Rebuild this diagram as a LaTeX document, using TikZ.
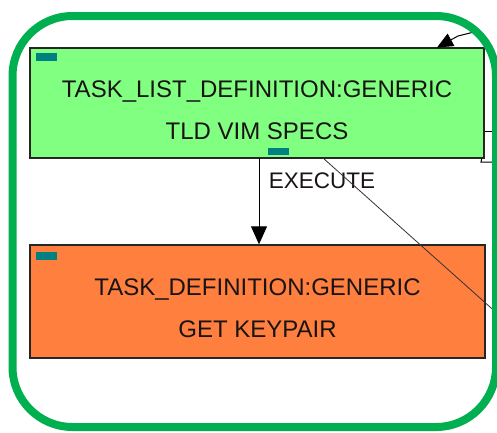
\documentclass[tikz,border=0pt]{standalone}
\usepackage{fontspec}
\setmainfont{Liberation Sans}
\usetikzlibrary{arrows.meta}
\definecolor{frameGreen}{RGB}{0,176,80}
\definecolor{listFill}{RGB}{128,255,128}
\definecolor{taskFill}{RGB}{255,127,63}
\definecolor{tagTeal}{RGB}{0,128,128}
\definecolor{ink}{RGB}{25,20,20}
% two centred lines, set a little below the middle of the box
\newcommand{\boxlines}[2]{\raisebox{-7pt}[\height][\depth]{\begin{tabular}{@{}c@{}}#1\\#2\end{tabular}}}
\tikzset{
  taskbox/.style={draw=black!85, line width=1.4pt, rectangle, inner sep=0pt,
    align=center, font=\fontsize{24}{42}\selectfont, text=ink},
  tag/.style={fill=tagTeal, draw=none, rectangle, inner sep=0pt,
    minimum width=21pt, minimum height=7.5pt},
  link/.style={draw=black, line width=1pt},
  thinlink/.style={draw=black!80, line width=0.8pt},
  lbl/.style={font=\fontsize{22.5}{26}\selectfont, text=ink, inner sep=0pt}
}
\begin{document}
\begin{tikzpicture}[x=1pt, y=-1pt]
  \useasboundingbox (0,0) rectangle (497,432);
  \fill[white] (0,0) rectangle (497,432);

  % incoming connector at the top right
  \coordinate (inA) at (478,31);
  % outgoing connector ends beyond the frame
  \coordinate (outA) at (499,131);
  \coordinate (outB) at (499,162);
  \coordinate (bend) at (481,162);
  \coordinate (diagEnd) at (499,315);

  % the two task boxes
  \node[taskbox, fill=listFill, minimum width=454pt, minimum height=110pt]
    (list) at (257,103) {\boxlines{TASK\_LIST\_DEFINITION:GENERIC}{TLD VIM SPECS}};
  \node[taskbox, fill=taskFill, minimum width=455pt, minimum height=113pt]
    (task) at (257.5,301.5) {\boxlines{TASK\_DEFINITION:GENERIC}{GET KEYPAIR}};

  % small markers
  \node[tag] (tagList) at (46.5,57) {};
  \node[tag] (tagExec) at (278.5,151.5) {};
  \node[tag] (tagTask) at (46.5,256) {};

  % EXECUTE link
  \coordinate (execTop) at (259,158);
  \draw[link, -{Triangle[width=16pt,length=18pt]}] (execTop) -- (execTop |- task.north);
  \node[lbl] (execLbl) at (322,181) {EXECUTE};

  % connectors running out to the right
  \coordinate (diagStart) at (323,158);
  \draw[thinlink] (diagStart) -- (diagEnd);
  \draw[link] (list.east |- outA) -- (outA);
  \draw[link] (list.south east) ++(-3,0) coordinate (cornerOut) -- (bend) -- (outB);
  \draw[link, -{Triangle[width=14pt,length=16pt]}] (inA) -- (458,36) -- (437,47.5);

  % outer frame
  \draw[frameGreen, line width=8pt, rounded corners=60pt] (12.5,16) rectangle (496,427);
\end{tikzpicture}
\end{document}
